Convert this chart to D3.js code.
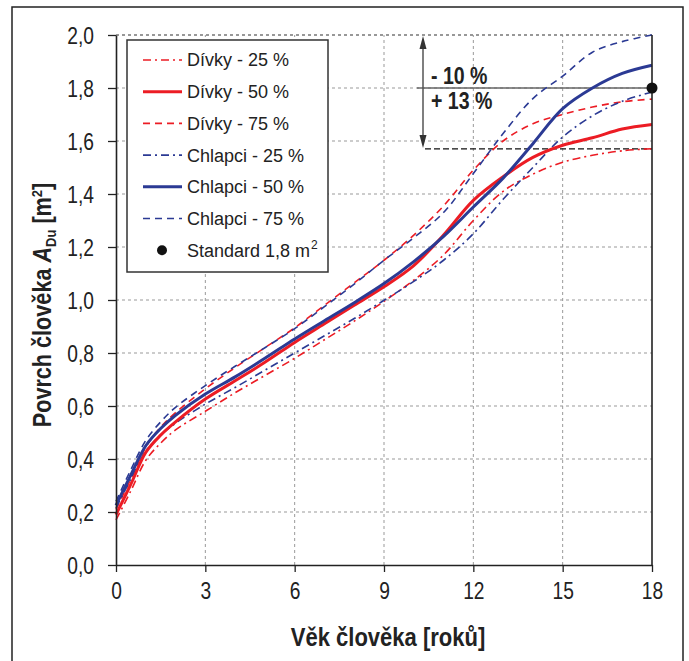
<!DOCTYPE html>
<html>
<head>
<meta charset="utf-8">
<script src="https://cdn.jsdelivr.net/npm/d3@7"></script>
<style>
  body { margin: 0; background: #fff; }
  svg { display: block; font-family: "Liberation Sans Narrow", "Arial Narrow", "Liberation Sans", Arial, sans-serif; }
</style>
</head>
<body>
<svg id="drawing_region"></svg>
<script>
// age in years and body surface area in m2
const ages      = [0, 0.5, 1, 1.5, 2, 3, 4, 5, 6, 7, 8, 9, 10, 11, 12, 13, 14, 15, 16, 17, 18];
const divky25   = [0.17, 0.28, 0.395, 0.46, 0.51, 0.58, 0.65, 0.715, 0.78, 0.85, 0.92, 0.995, 1.075, 1.17, 1.30, 1.41, 1.475, 1.52, 1.546, 1.563, 1.571];
const divky50   = [0.19, 0.305, 0.425, 0.49, 0.54, 0.626, 0.695, 0.765, 0.84, 0.91, 0.98, 1.05, 1.13, 1.245, 1.376, 1.465, 1.538, 1.584, 1.612, 1.645, 1.662];
const divky75   = [0.21, 0.325, 0.445, 0.52, 0.575, 0.665, 0.745, 0.82, 0.895, 0.98, 1.065, 1.15, 1.245, 1.355, 1.49, 1.60, 1.665, 1.70, 1.728, 1.748, 1.758];
const chlapci25 = [0.215, 0.325, 0.43, 0.49, 0.535, 0.607, 0.67, 0.735, 0.80, 0.865, 0.93, 0.999, 1.07, 1.15, 1.25, 1.38, 1.50, 1.615, 1.695, 1.75, 1.785];
const chlapci50 = [0.225, 0.34, 0.45, 0.515, 0.565, 0.645, 0.71, 0.78, 0.853, 0.922, 0.99, 1.062, 1.145, 1.24, 1.351, 1.46, 1.59, 1.722, 1.80, 1.855, 1.886];
const chlapci75 = [0.24, 0.36, 0.47, 0.54, 0.595, 0.677, 0.75, 0.82, 0.892, 0.975, 1.06, 1.15, 1.235, 1.33, 1.477, 1.628, 1.76, 1.845, 1.935, 1.975, 2.0];

const xTicks = [0, 3, 6, 9, 12, 15, 18];
const yTicks = [0, 0.2, 0.4, 0.6, 0.8, 1.0, 1.2, 1.4, 1.6, 1.8, 2.0];

const standardAge = 18, standardValue = 1.8;
const rangeLow = 1.57, rangeHigh = 2.0;
const labelMinus = "- 10 %", labelPlus = "+ 13 %";

const seriesNames = ["Dívky - 25 %", "Dívky - 50 %", "Dívky - 75 %", "Chlapci - 25 %", "Chlapci - 50 %", "Chlapci - 75 %"];
const seriesValues = [divky25, divky50, divky75, chlapci25, chlapci50, chlapci75];

const RED = "#ec1c24", BLUE = "#2b3a94";
const styles = [
  { color: RED,  width: 1.6, dash: "8,4,2,4" },
  { color: RED,  width: 3,   dash: null },
  { color: RED,  width: 1.6, dash: "7,5" },
  { color: BLUE, width: 1.6, dash: "8,4,2,4" },
  { color: BLUE, width: 3,   dash: null },
  { color: BLUE, width: 1.6, dash: "7,5" },
];

const W = 689, H = 661;
const margin = { left: 116, right: 37, top: 35, bottom: 96 };
const svg = d3.select("#drawing_region").attr("width", W).attr("height", H);

// squeeze text horizontally, the original uses a narrow face
function narrow(sel, k) {
  sel.each(function() {
    const w = this.getComputedTextLength();
    d3.select(this).attr("textLength", w * k).attr("lengthAdjust", "spacingAndGlyphs");
  });
}

// outer frame
svg.append("rect").attr("x", 12).attr("y", 7).attr("width", 671).attr("height", 660)
  .attr("fill", "none").attr("stroke", "#222").attr("stroke-width", 1.5);

const x = d3.scaleLinear().domain([0, 18]).range([margin.left, W - margin.right]);
const y = d3.scaleLinear().domain([0, 2]).range([H - margin.bottom, margin.top]);

const cz = d3.formatLocale({ decimal: ",", thousands: " ", grouping: [3], currency: ["", ""] });
const fmt = cz.format(".1f");

// grid
const grid = svg.append("g");
grid.selectAll(".gx").data(xTicks.slice(1, -1)).join("line")
  .attr("x1", d => x(d)).attr("x2", d => x(d)).attr("y1", y(0)).attr("y2", y(2))
  .attr("stroke", "#999").attr("stroke-width", 1).attr("stroke-dasharray", "3,3");
grid.selectAll(".gy").data(yTicks.slice(1)).join("line")
  .attr("x1", x(0)).attr("x2", x(18)).attr("y1", d => y(d)).attr("y2", d => y(d))
  .attr("stroke", d => d === 2 ? "#777" : "#999").attr("stroke-width", d => d === 2 ? 1.5 : 1)
  .attr("stroke-dasharray", "3,3");

// annotation band
const ax = 423;
svg.append("line").attr("x1", 417).attr("x2", x(18)).attr("y1", y(standardValue)).attr("y2", y(standardValue))
  .attr("stroke", "#666").attr("stroke-width", 1.5);
svg.append("line").attr("x1", 425).attr("x2", x(18)).attr("y1", y(rangeLow)).attr("y2", y(rangeLow))
  .attr("stroke", "#111").attr("stroke-width", 1.2).attr("stroke-dasharray", "6,3");
svg.append("line").attr("x1", ax).attr("x2", ax).attr("y1", y(rangeHigh) + 8).attr("y2", y(rangeLow) - 8)
  .attr("stroke", "#555").attr("stroke-width", 1.5);
svg.append("path").attr("d", `M${ax},${y(rangeHigh) + 1}l-3.5,13h7z`).attr("fill", "#333");
svg.append("path").attr("d", `M${ax},${y(rangeLow) - 1}l-3.5,-13h7z`).attr("fill", "#333");
svg.append("text").attr("x", 431).attr("y", y(standardValue) - 4).text(labelMinus)
  .attr("font-size", 23).attr("font-weight", "bold").attr("fill", "#222").call(narrow, 0.85);
svg.append("text").attr("x", 431).attr("y", y(standardValue) + 21).text(labelPlus)
  .attr("font-size", 23).attr("font-weight", "bold").attr("fill", "#222").call(narrow, 0.85);

// curves
const line = d3.line().curve(d3.curveCatmullRom.alpha(0.5)).x(d => x(d[0])).y(d => y(d[1]));
const order = [0, 2, 3, 5, 1, 4];
svg.append("g").selectAll("path").data(order).join("path")
  .attr("d", i => line(ages.map((a, k) => [a, seriesValues[i][k]])))
  .attr("fill", "none")
  .attr("stroke", i => styles[i].color)
  .attr("stroke-width", i => styles[i].width)
  .attr("stroke-dasharray", i => styles[i].dash);

// axes
const xAxis = svg.append("g").attr("transform", `translate(0,${y(0)})`)
  .call(d3.axisBottom(x).tickValues(xTicks).tickSize(7).tickSizeOuter(0).tickPadding(10));
const yAxis = svg.append("g").attr("transform", `translate(${x(0)},0)`)
  .call(d3.axisLeft(y).tickValues(yTicks).tickFormat(fmt).tickSize(8).tickSizeOuter(0).tickPadding(14));
[xAxis, yAxis].forEach(g => {
  g.select(".domain").attr("stroke", "#222").attr("stroke-width", 1.6);
  g.selectAll(".tick line").attr("stroke", "#222").attr("stroke-width", 1.3);
  g.selectAll(".tick text").attr("font-size", 24).attr("fill", "#222").attr("font-family", null)
    .call(narrow, 0.8);
});
yAxis.selectAll(".tick text").attr("dy", "0.36em");
svg.append("line").attr("x1", x(18)).attr("x2", x(18)).attr("y1", y(0)).attr("y2", y(2))
  .attr("stroke", "#222").attr("stroke-width", 1.6);

// standard point
svg.append("circle").attr("cx", x(standardAge)).attr("cy", y(standardValue)).attr("r", 5.5).attr("fill", "#111");

// axis titles
svg.append("text").attr("x", 388).attr("y", 646).attr("text-anchor", "middle")
  .attr("font-size", 25).attr("font-weight", "bold").attr("fill", "#222").text("Věk člověka [roků]")
  .call(narrow, 0.88);
const yt = svg.append("text").attr("transform", "translate(51,305) rotate(-90)").attr("text-anchor", "middle")
  .attr("font-size", 25).attr("font-weight", "bold").attr("fill", "#222");
yt.append("tspan").text("Povrch člověka ");
yt.append("tspan").attr("font-style", "italic").text("A");
yt.append("tspan").attr("font-size", 15).attr("dy", 5).text("Du");
yt.append("tspan").attr("dy", -5).text(" [m");
yt.append("tspan").attr("font-size", 15).attr("dy", -9).text("2");
yt.append("tspan").attr("dy", 9).text("]");
yt.call(narrow, 0.865);

// legend
const lg = svg.append("g");
lg.append("rect").attr("x", 127).attr("y", 40).attr("width", 201).attr("height", 232)
  .attr("fill", "#fff").attr("stroke", "#333").attr("stroke-width", 1.5);
const rowY = i => 60 + i * 31.7;
seriesNames.forEach((name, i) => {
  lg.append("line").attr("x1", 143).attr("x2", 182).attr("y1", rowY(i)).attr("y2", rowY(i))
    .attr("stroke", styles[i].color).attr("stroke-width", styles[i].width)
    .attr("stroke-dasharray", styles[i].dash);
  lg.append("text").attr("x", 187).attr("y", rowY(i)).attr("dy", "0.36em")
    .attr("font-size", 18).attr("fill", "#222").text(name);
});
lg.append("circle").attr("cx", 162).attr("cy", rowY(6)).attr("r", 5).attr("fill", "#111");
const st = lg.append("text").attr("x", 187).attr("y", rowY(6)).attr("dy", "0.36em")
  .attr("font-size", 18).attr("fill", "#222").text("Standard 1,8 m");
const stEnd = 187 + st.node().getComputedTextLength();
lg.append("text").attr("x", stEnd + 1).attr("y", rowY(6) - 1)
  .attr("font-size", 12).attr("fill", "#222").text("2");
</script>
</body>
</html>
